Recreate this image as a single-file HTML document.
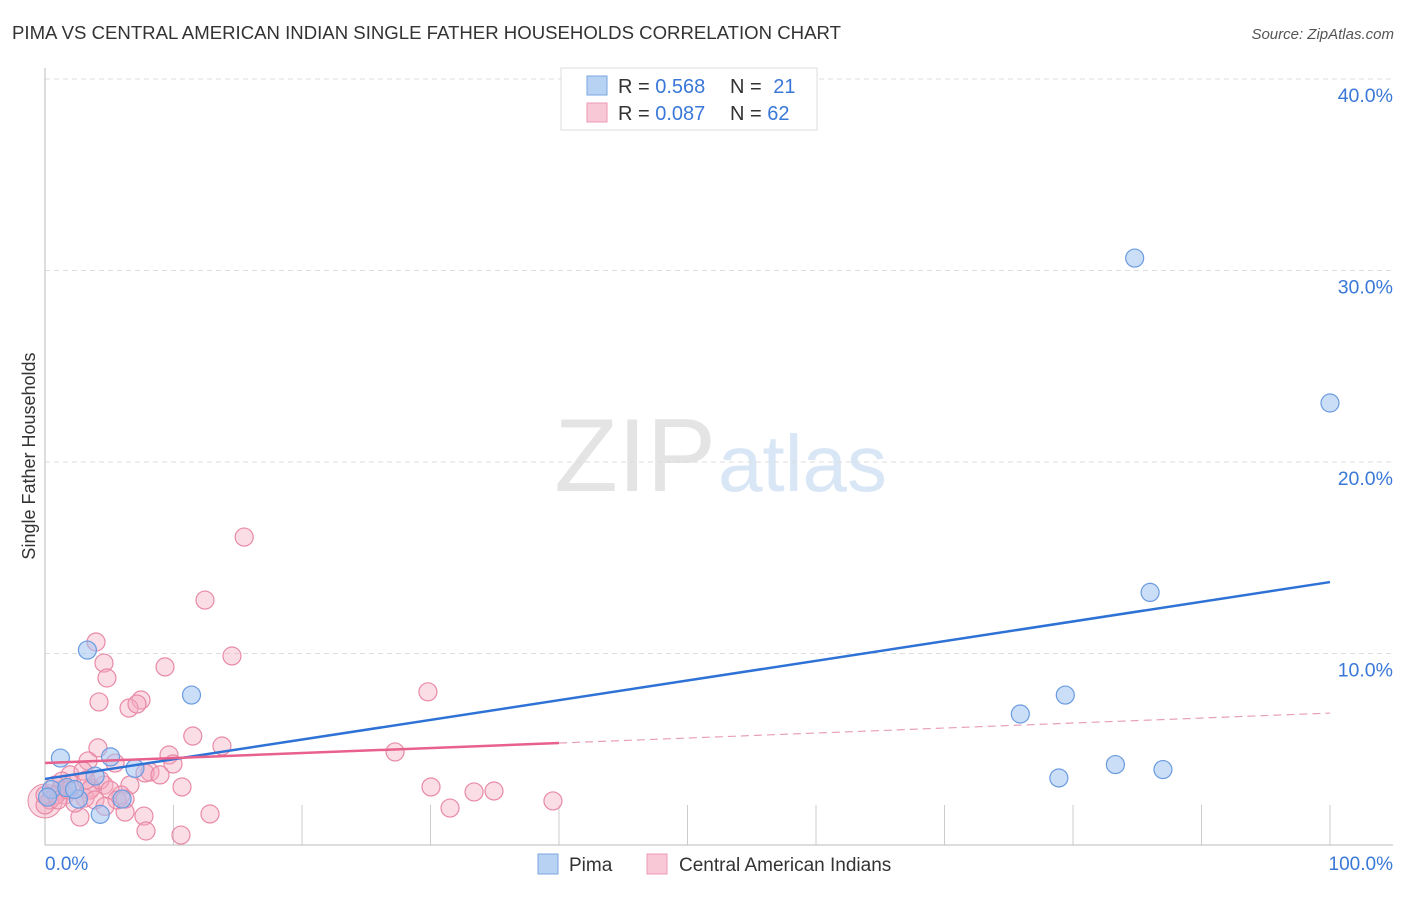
<!DOCTYPE html>
<html><head><meta charset="utf-8"><style>
body{margin:0;background:#fff;font-family:"Liberation Sans",sans-serif}
svg text{font-family:"Liberation Sans",sans-serif}
</style></head><body>
<svg id="c" width="1406" height="892">
<text x="12" y="39" font-size="18.6" fill="#333">PIMA VS CENTRAL AMERICAN INDIAN SINGLE FATHER HOUSEHOLDS CORRELATION CHART</text>
<text x="1394" y="39" font-size="15" fill="#555" font-style="italic" text-anchor="end">Source: ZipAtlas.com</text>
<text x="35" y="456" font-size="18" fill="#333" transform="rotate(-90 35 456)" text-anchor="middle">Single Father Households</text>
<text x="716" y="491" font-size="104" fill="#e4e4e4" text-anchor="end" font-family="Liberation Serif">ZIP</text>
<text x="718" y="491" font-size="80" fill="#d8e6f6">atlas</text>
<g id="grid"></g><g id="pts"></g><g id="lines"></g>
<g>
<rect x="561" y="68" width="256" height="62" fill="#fff" stroke="#ddd"/>
<rect x="587" y="76" width="20" height="19" fill="#b8d2f4" stroke="#7aa6e0"/>
<rect x="587" y="103" width="20" height="19" fill="#f9c8d6" stroke="#ec9ab4"/>
<text x="618" y="93" font-size="20" fill="#333">R = <tspan fill="#3a78d8">0.568</tspan></text>
<text x="730" y="93" font-size="20" fill="#333">N = <tspan fill="#3a78d8" dx="6">21</tspan></text>
<text x="618" y="120" font-size="20" fill="#333">R = <tspan fill="#3a78d8">0.087</tspan></text>
<text x="730" y="120" font-size="20" fill="#333">N = <tspan fill="#3a78d8">62</tspan></text>
</g>
<g>
<rect x="538" y="854" width="20" height="20" fill="#b8d2f4" stroke="#7aa6e0"/>
<text x="569" y="871" font-size="19" fill="#333">Pima</text>
<rect x="647" y="854" width="20" height="20" fill="#f9c8d6" stroke="#ec9ab4"/>
<text x="679" y="871" font-size="19" fill="#333">Central American Indians</text>
</g>
<text x="45" y="870" font-size="19" fill="#3a78d8">0.0%</text>
<text x="1393" y="870" font-size="19" fill="#3a78d8" text-anchor="end">100.0%</text>
</svg>
<script>
const yTicks=[10,20,30,40];
const xTicks=[10,20,30,40,50,60,70,80,90,100];
const pimaX=[84.8,100,86,3.3,11.4,75.9,79.4,78.9,83.3,87,1.2,5.1,3.9,7,6,4.3,2.6,0.5,1.7,2.3,0.2];
const pimaY=[30.65,23.08,13.19,10.18,7.83,6.84,7.83,3.5,4.2,3.94,4.54,4.6,3.6,4.0,2.4,1.6,2.4,2.9,3.0,2.9,2.5];
const camX=[15.5,12.45,3.97,14.55,4.59,9.34,4.82,29.8,4.2,7.47,6.54,7.16,11.5,13.77,4.12,9.65,27.24,3.35,5.45,8.17,9.96,7.78,1.95,2.96,4.59,6.61,10.66,30.04,33.39,34.94,3.58,5.91,39.53,31.52,7.7,6.23,12.84,2.72,7.86,10.58,1.17,0.78,0.39,0,1.32,2.1,3.11,3.5,4.28,5.06,5.6,1.56,0.86,2.33,3.89,8.95,0,3.19,1.01,1.79,6.23,4.67];
const camY=[16.08,12.79,10.6,9.87,9.5,9.3,8.72,8.0,7.47,7.57,7.15,7.36,5.69,5.17,5.07,4.7,4.86,4.39,4.28,3.81,4.23,3.76,3.66,3.86,3.13,3.13,3.03,3.03,2.77,2.82,2.98,2.61,2.30,1.93,1.51,1.72,1.62,1.46,0.73,0.52,2.87,3.13,2.35,2.09,3.34,3.18,2.45,2.87,3.39,2.87,2.35,2.61,2.61,2.19,2.35,3.66,2.6,3.39,2.35,2.87,2.4,2.02];
const pimaTrend=[3.45,13.73];
const camTrend=[4.28,6.89];
const camSolidEnd=40;
const NS="http://www.w3.org/2000/svg";
const sx=v=>45+v*12.85, sy=v=>845-v*19.15;
function mk(t,a,p){const e=document.createElementNS(NS,t);for(const k in a)e.setAttribute(k,a[k]);p.appendChild(e);return e;}
const grid=document.getElementById('grid');
yTicks.forEach(t=>{
 const l=mk('line',{x1:45,x2:1393,y1:sy(t),y2:sy(t),stroke:'#ddd','stroke-dasharray':'5,4'},grid);
 
 
 const tx=mk('text',{x:1393,y:sy(t)+23,'font-size':19.5,fill:'#3a78d8','text-anchor':'end'},grid);
 tx.textContent=t.toFixed(1)+'%';
 
 
});
xTicks.forEach(t=>{
 const l=mk('line',{x1:sx(t),x2:sx(t),y1:805,y2:845,stroke:'#ccc'},grid);
 
 
});
mk('line',{x1:45,x2:45,y1:68,y2:845,stroke:'#bbb'},grid);
mk('line',{x1:45,x2:1393,y1:845,y2:845,stroke:'#bbb'},grid);
const pts=document.getElementById('pts');
const big=mk('circle',{cx:sx(0),cy:sy(2.3),r:17,fill:'rgba(240,150,175,0.35)',stroke:'#e88aa6'},pts);


camX.forEach((x,i)=>{
 const c=mk('circle',{cx:sx(x),cy:sy(camY[i]),r:9,fill:'rgba(244,170,192,0.4)',stroke:'#e88aa6','stroke-width':1.2},pts);
 
 
});
pimaX.forEach((x,i)=>{
 const c=mk('circle',{cx:sx(x),cy:sy(pimaY[i]),r:9,fill:'rgba(160,195,240,0.55)',stroke:'#6a9be0','stroke-width':1.2},pts);
 
 
});
const L=document.getElementById('lines');
const camAt=x=>camTrend[0]+(camTrend[1]-camTrend[0])*x/100;
const b=mk('line',{x1:sx(0),y1:sy(pimaTrend[0]),x2:sx(100),y2:sy(pimaTrend[1]),stroke:'#2f72d6','stroke-width':2.5},L);


const p1=mk('line',{x1:sx(0),y1:sy(camAt(0)),x2:sx(camSolidEnd),y2:sy(camAt(camSolidEnd)),stroke:'#e8608c','stroke-width':2.5},L);


const p2=mk('line',{x1:sx(camSolidEnd),y1:sy(camAt(camSolidEnd)),x2:sx(100),y2:sy(camAt(100)),stroke:'#e8a0b8','stroke-width':1.2,'stroke-dasharray':'8,5'},L);


</script>
</body></html>
